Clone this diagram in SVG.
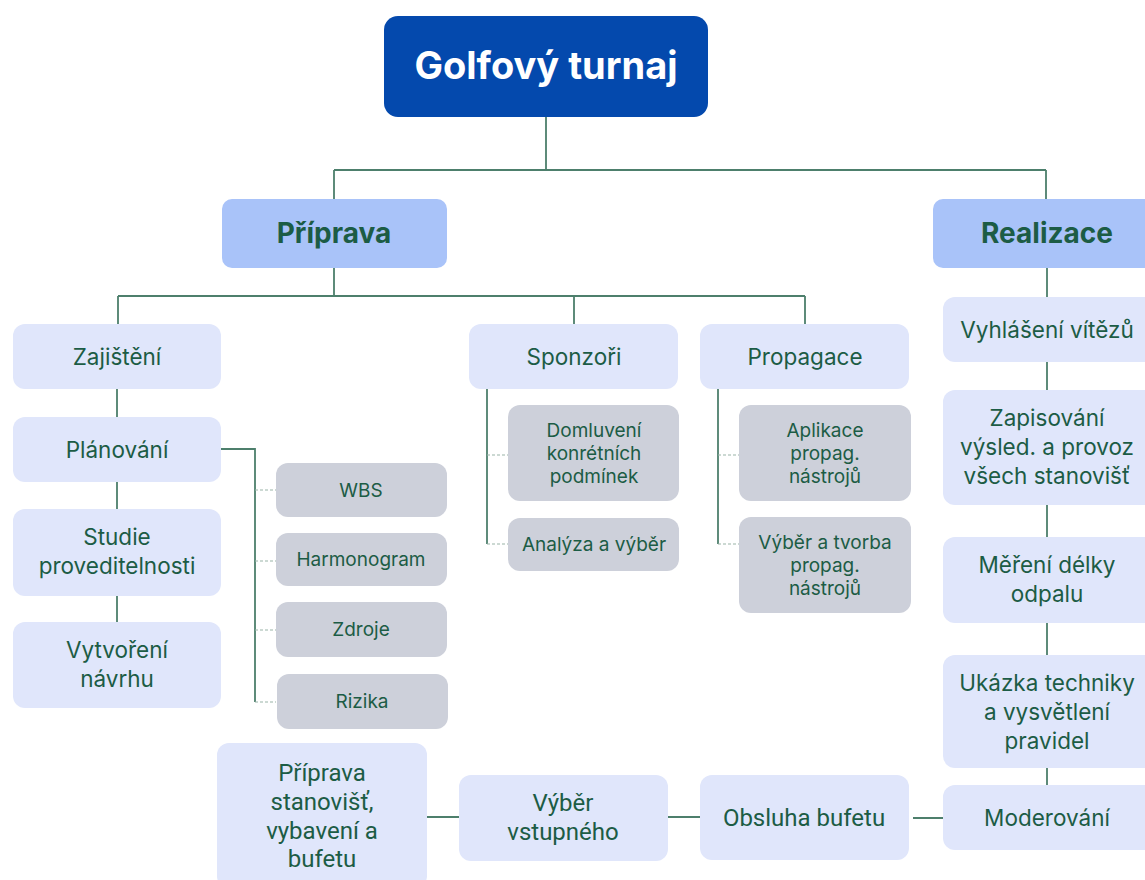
<svg xmlns="http://www.w3.org/2000/svg" width="1145" height="880" viewBox="0 0 1145 880">
  <style>
    .root { fill: #0449ad; }
    .phase { fill: #a9c3f9; }
    .task { fill: #e0e6fb; }
    .sub { fill: #cdd0da; }
    text { font-family: "Inter", "DejaVu Sans", sans-serif; fill: #1c5c45; text-anchor: middle; }
    .t-root { fill: #ffffff; font-size: 38px; font-weight: 700; }
    .t-phase { font-size: 28px; font-weight: 700; }
    .t-task { font-size: 22.5px; }
    .t-sub { font-size: 19px; }
    .t-cond { font-family: "Roboto", "Liberation Sans", sans-serif; font-size: 24px; }
    .link { fill: none; stroke: #4d7f6c; stroke-width: 1.8; }
    .tick { fill: none; stroke: #9ab3a8; stroke-width: 1.2; stroke-dasharray: 3 2; }
  </style>

  <!-- connectors -->
  <g id="connectors">
    <path class="link" d="M546 117 V170 M334 170 H1046 M334 170 V199 M1046 170 V199"/>
    <path class="link" d="M334 268 V296 M118 296 H805 M118 296 V324 M574 296 V324 M805 296 V324"/>
    <path class="link" d="M117 389 V417 M117 482 V509 M117 596 V622"/>
    <path class="link" d="M221 449 H255 V702"/>
    <path class="tick" d="M255 490 H276 M255 561 H276 M255 630 H276 M255 702 H276"/>
    <path class="link" d="M487 389 V544"/>
    <path class="tick" d="M487 455 H508 M487 544 H508"/>
    <path class="link" d="M718 389 V544"/>
    <path class="tick" d="M718 455 H739 M718 544 H739"/>
    <path class="link" d="M1047 268 V297 M1047 362 V390 M1047 505 V537 M1047 623 V655 M1047 768 V785"/>
    <path class="link" d="M913 818 H943 M668 817 H700 M427 817 H459"/>
  </g>

  <g id="golfovy-turnaj">
    <rect class="root" x="384" y="16" width="324" height="101" rx="14"/>
    <text class="t-root" x="546" y="79">Golfový turnaj</text>
  </g>

  <g id="priprava">
    <rect class="phase" x="222" y="199" width="225" height="69" rx="10"/>
    <text class="t-phase" x="334" y="243">Příprava</text>
  </g>

  <g id="realizace">
    <rect class="phase" x="933" y="199" width="230" height="69" rx="10"/>
    <text class="t-phase" x="1047" y="243">Realizace</text>
  </g>

  <g id="zajisteni">
    <rect class="task" x="13" y="324" width="208" height="65" rx="12"/>
    <text class="t-task" x="117" y="365">Zajištění</text>
  </g>
  <g id="planovani">
    <rect class="task" x="13" y="417" width="208" height="65" rx="12"/>
    <text class="t-task" x="117" y="458">Plánování</text>
  </g>
  <g id="studie">
    <rect class="task" x="13" y="509" width="208" height="87" rx="12"/>
    <text class="t-task" x="117" y="545">Studie</text>
    <text class="t-task" x="117" y="574">proveditelnosti</text>
  </g>
  <g id="vytvoreni-navrhu">
    <rect class="task" x="13" y="622" width="208" height="86" rx="12"/>
    <text class="t-task" x="117" y="658">Vytvoření</text>
    <text class="t-task" x="117" y="687">návrhu</text>
  </g>

  <g id="wbs">
    <rect class="sub" x="276" y="463" width="171" height="54" rx="12"/>
    <text class="t-sub" x="361" y="497">WBS</text>
  </g>
  <g id="harmonogram">
    <rect class="sub" x="276" y="533" width="171" height="53" rx="12"/>
    <text class="t-sub" x="361" y="566">Harmonogram</text>
  </g>
  <g id="zdroje">
    <rect class="sub" x="276" y="602" width="171" height="55" rx="12"/>
    <text class="t-sub" x="361" y="636">Zdroje</text>
  </g>
  <g id="rizika">
    <rect class="sub" x="277" y="674" width="171" height="55" rx="12"/>
    <text class="t-sub" x="362" y="708">Rizika</text>
  </g>

  <g id="sponzori">
    <rect class="task" x="469" y="324" width="209" height="65" rx="12"/>
    <text class="t-task" x="574" y="365">Sponzoři</text>
  </g>
  <g id="domluveni">
    <rect class="sub" x="508" y="405" width="171" height="96" rx="12"/>
    <text class="t-sub" x="594" y="437">Domluvení</text>
    <text class="t-sub" x="594" y="460">konrétních</text>
    <text class="t-sub" x="594" y="483">podmínek</text>
  </g>
  <g id="analyza">
    <rect class="sub" x="508" y="518" width="171" height="53" rx="12"/>
    <text class="t-sub" x="594" y="551">Analýza a výběr</text>
  </g>

  <g id="propagace">
    <rect class="task" x="700" y="324" width="209" height="65" rx="12"/>
    <text class="t-task" x="805" y="365">Propagace</text>
  </g>
  <g id="aplikace">
    <rect class="sub" x="739" y="405" width="172" height="96" rx="12"/>
    <text class="t-sub" x="825" y="437">Aplikace</text>
    <text class="t-sub" x="825" y="460">propag.</text>
    <text class="t-sub" x="825" y="483">nástrojů</text>
  </g>
  <g id="vyber-tvorba">
    <rect class="sub" x="739" y="517" width="172" height="96" rx="12"/>
    <text class="t-sub" x="825" y="549">Výběr a tvorba</text>
    <text class="t-sub" x="825" y="572">propag.</text>
    <text class="t-sub" x="825" y="595">nástrojů</text>
  </g>

  <g id="vyhlaseni">
    <rect class="task" x="943" y="297" width="215" height="65" rx="12"/>
    <text class="t-task" x="1047" y="338">Vyhlášení vítězů</text>
  </g>
  <g id="zapisovani">
    <rect class="task" x="943" y="390" width="215" height="115" rx="12"/>
    <text class="t-task" x="1047" y="426">Zapisování</text>
    <text class="t-task" x="1047" y="455">výsled. a provoz</text>
    <text class="t-task" x="1047" y="484">všech stanovišť</text>
  </g>
  <g id="mereni">
    <rect class="task" x="943" y="537" width="215" height="86" rx="12"/>
    <text class="t-task" x="1047" y="573">Měření délky</text>
    <text class="t-task" x="1047" y="602">odpalu</text>
  </g>
  <g id="ukazka">
    <rect class="task" x="943" y="655" width="215" height="113" rx="12"/>
    <text class="t-task" x="1047" y="691">Ukázka techniky</text>
    <text class="t-task" x="1047" y="720">a vysvětlení</text>
    <text class="t-task" x="1047" y="749">pravidel</text>
  </g>
  <g id="moderovani">
    <rect class="task" x="943" y="785" width="215" height="65" rx="12"/>
    <text class="t-task" x="1047" y="826">Moderování</text>
  </g>

  <g id="obsluha-bufetu">
    <rect class="task" x="700" y="775" width="209" height="85" rx="12"/>
    <text class="t-cond" x="804" y="826">Obsluha bufetu</text>
  </g>
  <g id="vyber-vstupneho">
    <rect class="task" x="459" y="775" width="209" height="86" rx="12"/>
    <text class="t-cond" x="563" y="811">Výběr</text>
    <text class="t-cond" x="563" y="840">vstupného</text>
  </g>
  <g id="priprava-stanovist">
    <rect class="task" x="217" y="743" width="210" height="145" rx="12"/>
    <text class="t-cond" x="322" y="781">Příprava</text>
    <text class="t-cond" x="322" y="810">stanovišť,</text>
    <text class="t-cond" x="322" y="839">vybavení a</text>
    <text class="t-cond" x="322" y="867">bufetu</text>
  </g>
</svg>
